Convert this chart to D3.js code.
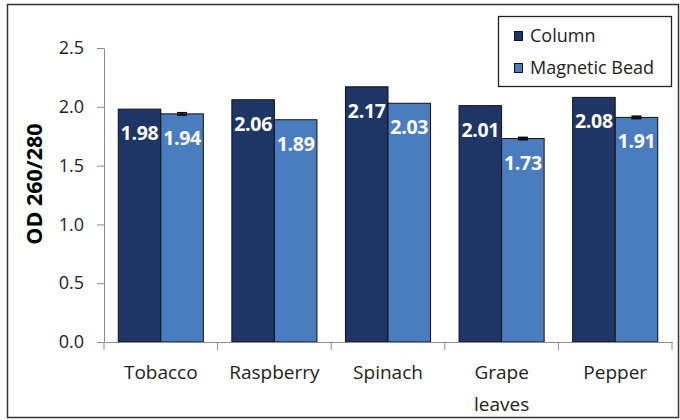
<!DOCTYPE html>
<html><head><meta charset="utf-8">
<script src="https://cdn.jsdelivr.net/npm/d3@7"></script>
<style>body{margin:0;background:#fff}text{font-family:"Open Sans",sans-serif}</style>
</head><body><svg id="c" width="680" height="420"></svg>
<script>
const categories = ["Tobacco", "Raspberry", "Spinach", "Grape leaves", "Pepper"];
const seriesNames = ["Column", "Magnetic Bead"];
const columnValues = [1.98, 2.06, 2.17, 2.01, 2.08];
const beadValues = [1.94, 1.89, 2.03, 1.73, 1.91];
const columnErrors = [0, 0, 0, 0, 0];
const beadErrors = [0.01, 0, 0, 0.01, 0.01];
const yTicks = [0, 0.5, 1.0, 1.5, 2.0, 2.5];
const colors = ["#1f3566", "#4a7cc0"];

const svg = d3.select("#c");
svg.append("rect").attr("x",7.5).attr("y",4.5).attr("width",671).attr("height",413)
  .attr("fill","#fff").attr("stroke","#333").attr("stroke-width",1.5);

const m = {l:104, r:672, t:48, b:342};
const y = d3.scaleLinear().domain([0,2.5]).range([m.b, m.t]);
const x0 = d3.scaleBand().domain(categories).range([m.l, m.r]).paddingInner(0).paddingOuter(0);
const x1 = d3.scaleBand().domain(seriesNames).range([0, x0.bandwidth()]).paddingOuter(0.335).paddingInner(0);

const data = categories.map((c,i)=>({cat:c, vals:[
  {s:seriesNames[0], v:columnValues[i], e:columnErrors[i], k:0},
  {s:seriesNames[1], v:beadValues[i], e:beadErrors[i], k:1}]}));

// y axis
const yAxis = d3.axisLeft(y).tickValues(yTicks).tickFormat(d3.format(".1f")).tickSize(7).tickSizeOuter(0);
const gy = svg.append("g").attr("transform",`translate(${m.l},0)`).call(yAxis);
gy.select(".domain").attr("stroke","#8c8c8c");
gy.selectAll(".tick line").attr("stroke","#8c8c8c");
gy.selectAll(".tick text").attr("font-size",18).attr("fill","#222").attr("x",-20);

// bars
const g = svg.append("g").selectAll("g").data(data).join("g")
  .attr("transform",d=>`translate(${x0(d.cat)},0)`);
g.selectAll("rect").data(d=>d.vals).join("rect")
  .attr("x",d=>x1(d.s)).attr("width",x1.bandwidth())
  .attr("y",d=>y(d.v)).attr("height",d=>y(0)-y(d.v))
  .attr("fill",d=>colors[d.k]).attr("stroke","#111").attr("stroke-width",1);
// error bars
g.selectAll("g.err").data(d=>d.vals.filter(v=>v.e>0)).join("g").attr("class","err").each(function(d){
  const cx = x1(d.s)+x1.bandwidth()/2, s = d3.select(this);
  s.append("line").attr("x1",cx).attr("x2",cx).attr("y1",y(d.v+d.e)).attr("y2",y(d.v-d.e)).attr("stroke","#000").attr("stroke-width",1.2);
  [d.v+d.e, d.v-d.e].forEach(v=>s.append("line").attr("x1",cx-5).attr("x2",cx+5).attr("y1",y(v)).attr("y2",y(v)).attr("stroke","#000").attr("stroke-width",1.5));
});
// value labels
g.selectAll("text.val").data(d=>d.vals).join("text").attr("class","val")
  .attr("x",d=>x1(d.s)+x1.bandwidth()/2).attr("y",d=>y(d.v)+31)
  .attr("text-anchor","middle").attr("font-size",19.5).attr("font-weight","bold").attr("fill","#fff")
  .attr("letter-spacing",-0.3)
  .text(d=>d.v.toFixed(2));

// x axis
const xAxis = d3.axisBottom(x0).tickSize(0).tickFormat("");
const gx = svg.append("g").attr("transform",`translate(0,${m.b})`).call(xAxis);
gx.select(".domain").attr("stroke","#8c8c8c");
const bounds = categories.map(c=>x0(c)).concat([x0(categories[categories.length-1])+x0.bandwidth()]);
gx.selectAll("line.bt").data(bounds).join("line").attr("class","bt")
  .attr("x1",d=>d).attr("x2",d=>d).attr("y1",0).attr("y2",8).attr("stroke","#8c8c8c");
gx.selectAll("text.cl").data(categories).join("text").attr("class","cl")
  .attr("x",d=>x0(d)+x0.bandwidth()/2).attr("y",37).attr("text-anchor","middle")
  .attr("font-size",19).attr("fill","#222")
  .each(function(d){
    const words = d.split(" "), t = d3.select(this);
    words.forEach((w,i)=>t.append("tspan").attr("x",x0(d)+x0.bandwidth()/2).attr("dy",i?32:0).text(w));
  });

// y label
svg.append("text").attr("transform","translate(42,184) rotate(-90)").attr("text-anchor","middle")
  .attr("font-size",21.5).attr("font-weight","bold").attr("fill","#000").text("OD 260/280");

// legend
const lg = svg.append("g").attr("transform","translate(498,16)");
lg.append("rect").attr("x",0.5).attr("y",0.5).attr("width",173).attr("height",70)
  .attr("fill","#fff").attr("stroke","#222").attr("stroke-width",1.3);
seriesNames.forEach((s,i)=>{
  lg.append("rect").attr("x",16.5).attr("y",15.5+i*32).attr("width",8).attr("height",9)
    .attr("fill",colors[i]).attr("stroke","#111");
  lg.append("text").attr("x",32).attr("y",26+i*32).attr("font-size",18).attr("fill","#222").text(s);
});
</script></body></html>
